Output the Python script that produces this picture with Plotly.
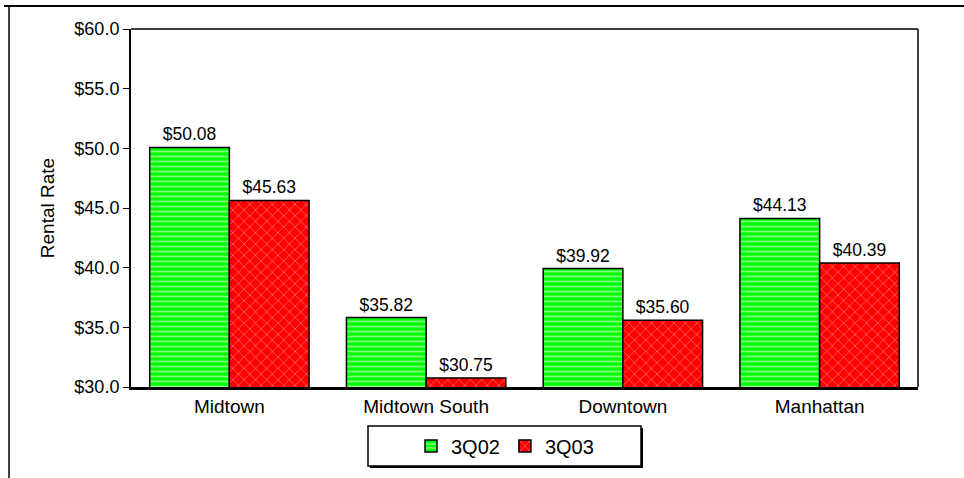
import plotly.graph_objects as go

categories = ["Midtown", "Midtown South", "Downtown", "Manhattan"]
series_names = ["3Q02", "3Q03"]
values_3q02 = [50.08, 35.82, 39.92, 44.13]
values_3q03 = [45.63, 30.75, 35.60, 40.39]
y_ticks = [30, 35, 40, 45, 50, 55, 60]

FONT = "Liberation Sans, Arial, sans-serif"

fig = go.Figure()
fig.add_trace(go.Bar(
    x=categories, y=values_3q02, name=series_names[0],
    marker=dict(color="#00FF00", line=dict(color="black", width=1.5),
                pattern=dict(shape="-", fgcolor="white", bgcolor="#00FF00",
                             size=5, solidity=0.35, fillmode="overlay")),
    text=[f"${v:.2f}" for v in values_3q02], textposition="outside",
    textfont=dict(size=17.5, color="black"), cliponaxis=False,
))
fig.add_trace(go.Bar(
    x=categories, y=values_3q03, name=series_names[1],
    marker=dict(color="#FF0000", line=dict(color="black", width=1.5),
                pattern=dict(shape="x", fgcolor="#FFC8C8", bgcolor="#FF0000",
                             size=8, solidity=0.2, fillmode="overlay")),
    text=[f"${v:.2f}" for v in values_3q03], textposition="outside",
    textfont=dict(size=17.5, color="black"), cliponaxis=False,
))

L, R, T, B = 131, 46, 29, 91
W, H = 964, 478
pw, ph = W - L - R, H - T - B

def px_x(p):
    return (p - L) / pw

def px_y(p):
    return (H - B - p) / ph

fig.update_layout(
    width=W, height=H,
    margin=dict(l=L, r=R, t=T, b=B),
    paper_bgcolor="white", plot_bgcolor="white",
    font=dict(family=FONT, size=17, color="black"),
    barmode="group", bargap=0.19, bargroupgap=0,
    showlegend=True,
    legend=dict(orientation="h", x=px_x(505), xanchor="center", y=px_y(446), yanchor="middle",
                borderwidth=0, bgcolor="rgba(0,0,0,0)", font=dict(size=20),
                itemwidth=30, traceorder="normal"),
    xaxis=dict(showline=True, linecolor="black", linewidth=3, mirror=False,
               ticks="", tickfont=dict(size=19), showgrid=False),
    yaxis=dict(range=[30, 60], tickvals=y_ticks, ticktext=[f"${v:.1f}" for v in y_ticks],
               showline=True, linecolor="black", linewidth=2, ticks="outside",
               ticklen=6, tickwidth=1, tickcolor="black", showgrid=False,
               tickfont=dict(size=18),
               title=dict(text="Rental Rate", font=dict(size=19), standoff=15)),
    shapes=[
        # plot area border (top & right)
        dict(type="line", xref="paper", yref="paper", x0=0, x1=1, y0=1, y1=1,
             line=dict(color="black", width=1.5)),
        dict(type="line", xref="paper", yref="paper", x0=1, x1=1, y0=0, y1=1,
             line=dict(color="black", width=1.5)),
        # outer frame
        dict(type="line", xref="paper", yref="paper", x0=px_x(4), x1=px_x(964), y0=px_y(6), y1=px_y(6),
             line=dict(color="black", width=2)),
        dict(type="line", xref="paper", yref="paper", x0=px_x(9), x1=px_x(9), y0=px_y(6), y1=px_y(478),
             line=dict(color="black", width=1.5)),
        # legend box with shadow
        dict(type="rect", xref="paper", yref="paper", x0=px_x(370), x1=px_x(643), y0=px_y(468), y1=px_y(428),
             fillcolor="black", line=dict(width=0), layer="below"),
        dict(type="rect", xref="paper", yref="paper", x0=px_x(368), x1=px_x(641), y0=px_y(466), y1=px_y(426),
             fillcolor="white", line=dict(color="black", width=1.5), layer="below"),
    ],
)

fig.write_html("out.html")
